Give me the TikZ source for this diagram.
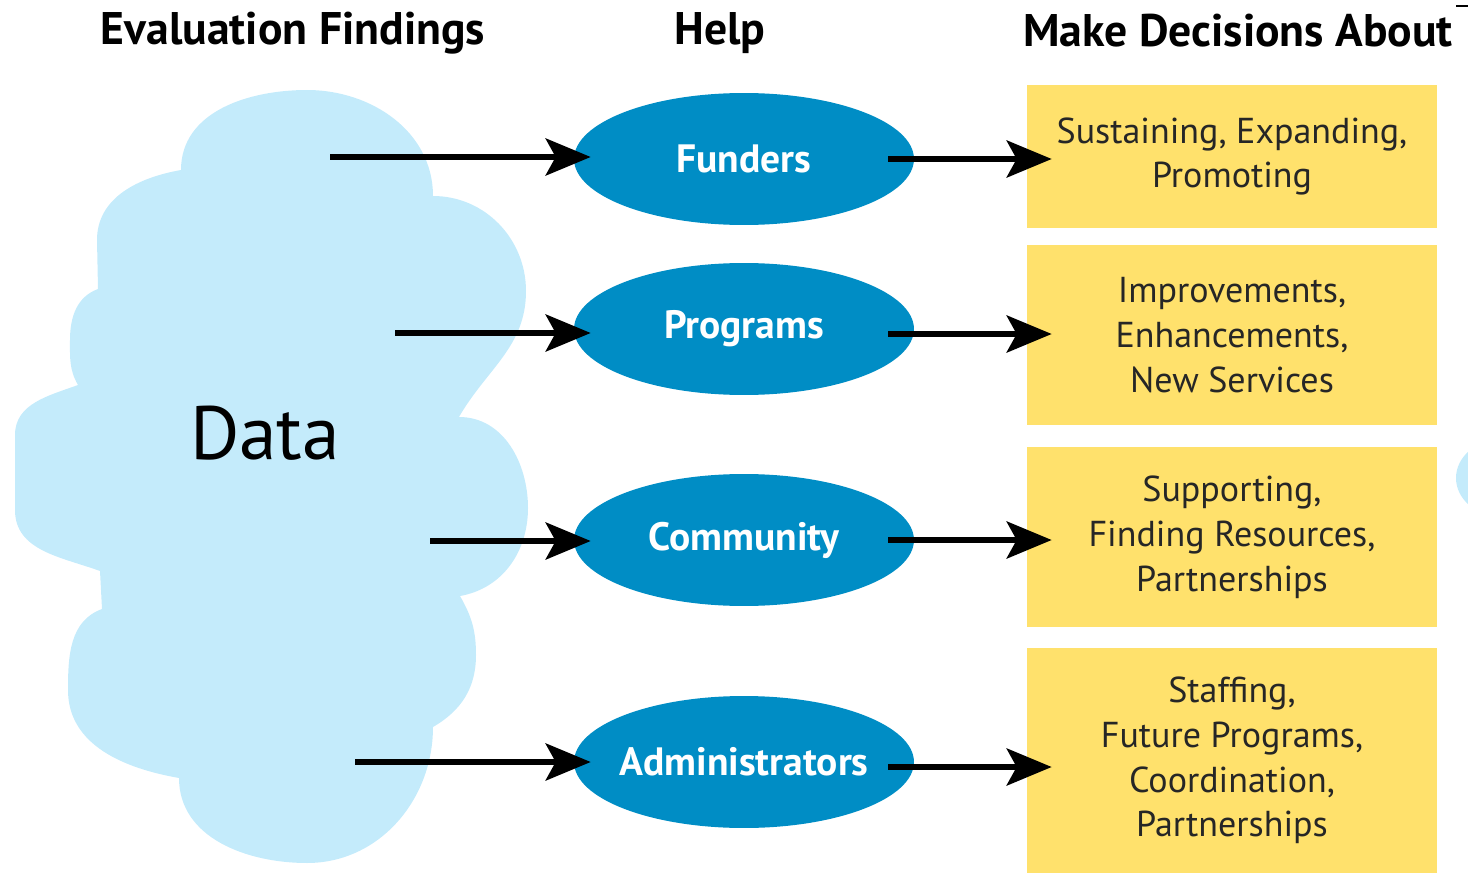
\documentclass[tikz,border=0pt]{standalone}
\usepackage{fontspec}
\setmainfont{PT Sans}
\usetikzlibrary{shapes.geometric, arrows.meta, calc}

\definecolor{cloudblue}{RGB}{196,235,251}
\definecolor{helpblue}{RGB}{0,141,197}
\definecolor{boxyellow}{RGB}{255,225,108}

\tikzset{
  helper/.style={ellipse, fill=helpblue, inner xsep=-0.3cm, inner ysep=0pt, minimum width=6.8cm, minimum height=2.64cm, text=white, font=\fontsize{22.5}{24}\selectfont\bfseries},
  decision/.style={fill=boxyellow, minimum width=8.2cm, inner sep=0pt, align=center, text=black!85, font=\fontsize{20.5}{25.5}\selectfont},
  heading/.style={font=\fontsize{26}{30}\selectfont\bfseries},
  arr/.style={line width=0.12cm, -{Stealth[length=0.9cm, width=0.74cm, inset=0.2cm]}},
}

\begin{document}
\begin{tikzpicture}[x=0.02cm, y=-0.02cm]
\useasboundingbox (0,0) rectangle (1468,875);

% the data cloud
\fill[cloudblue] (181,170) to[out=90,in=180] (307,90) to[out=0,in=90] (433,196)
  to[out=0,in=90] (526,291) to[out=-90,in=60] (459,417)
  to[out=0,in=90] (528,508) to[out=-90,in=10] (460,596)
  to[out=-60,in=90] (476,655) to[out=-90,in=30] (433,727)
  to[out=-90,in=0] (307,863) to[out=180,in=-90] (179,778)
  to[out=170,in=-90] (68,690) to[out=90,in=200] (102,609)
  -- (100,571) to[out=160,in=-90] (15,510) -- (15,435) to[out=90,in=200] (78,385)
  to[out=120,in=-90] (70,340) to[out=90,in=200] (98,289)
  -- (97,240) to[out=90,in=190] (181,170) -- cycle;
\node[font=\fontsize{43}{46}\selectfont] (data) at (265,433) {Data};

% cut-off bits at the right edge
\fill[cloudblue] (1500,478) ellipse [x radius=0.88cm, y radius=0.76cm];
\draw[line width=0.04cm] (1456,6) -- (1468,6);

% headings
\node[heading] (findings) at (293,33) {Evaluation Findings};
\node[heading] (help) at (720,33) {Help};
\node[heading] (decide) at (1238,31) {Make Decisions About};

% who is helped
\node[helper] (funders) at (744,159) {Funders};
\node[helper] (programs) at (744,329) {Programs};
\node[helper] (community) at (744,540) {Community};
\node[helper] (admins) at (744,762) {Administrators};

% decisions
\node[decision, minimum height=2.86cm] (sustain) at (1232,156.5) {Sustaining, Expanding,\\Promoting};
\node[decision, minimum height=3.6cm] (improve) at (1232,335) {Improvements,\\Enhancements,\\New Services};
\node[decision, minimum height=3.6cm] (support) at (1232,537) {Supporting,\\Finding Resources,\\Partnerships};
\node[decision, minimum height=4.5cm] (staff) at (1232,760.5) {Staffing,\\Future Programs,\\Coordination,\\Partnerships};

% arrows out of the cloud
\coordinate (src1) at (330,157);
\coordinate (src2) at (395,333);
\coordinate (src3) at (430,541);
\coordinate (src4) at (355,762);
\draw[arr] (src1) -- ($(src1 -| funders.west)+(17,0)$);
\draw[arr] (src2) -- ($(src2 -| programs.west)+(17,0)$);
\draw[arr] (src3) -- ($(src3 -| community.west)+(17,0)$);
\draw[arr] (src4) -- ($(src4 -| admins.west)+(17,0)$);

% arrows to the decisions
\draw[arr] ($(funders.east)+(-26,0)$) -- ($(funders.east -| sustain.west)+(25,0)$);
\draw[arr] ($(programs.east)+(-26,5)$) -- ($(programs.east -| improve.west)+(25,5)$);
\draw[arr] ($(community.east)+(-26,0)$) -- ($(community.east -| support.west)+(25,0)$);
\draw[arr] ($(admins.east)+(-26,5)$) -- ($(admins.east -| staff.west)+(25,5)$);
\end{tikzpicture}
\end{document}
